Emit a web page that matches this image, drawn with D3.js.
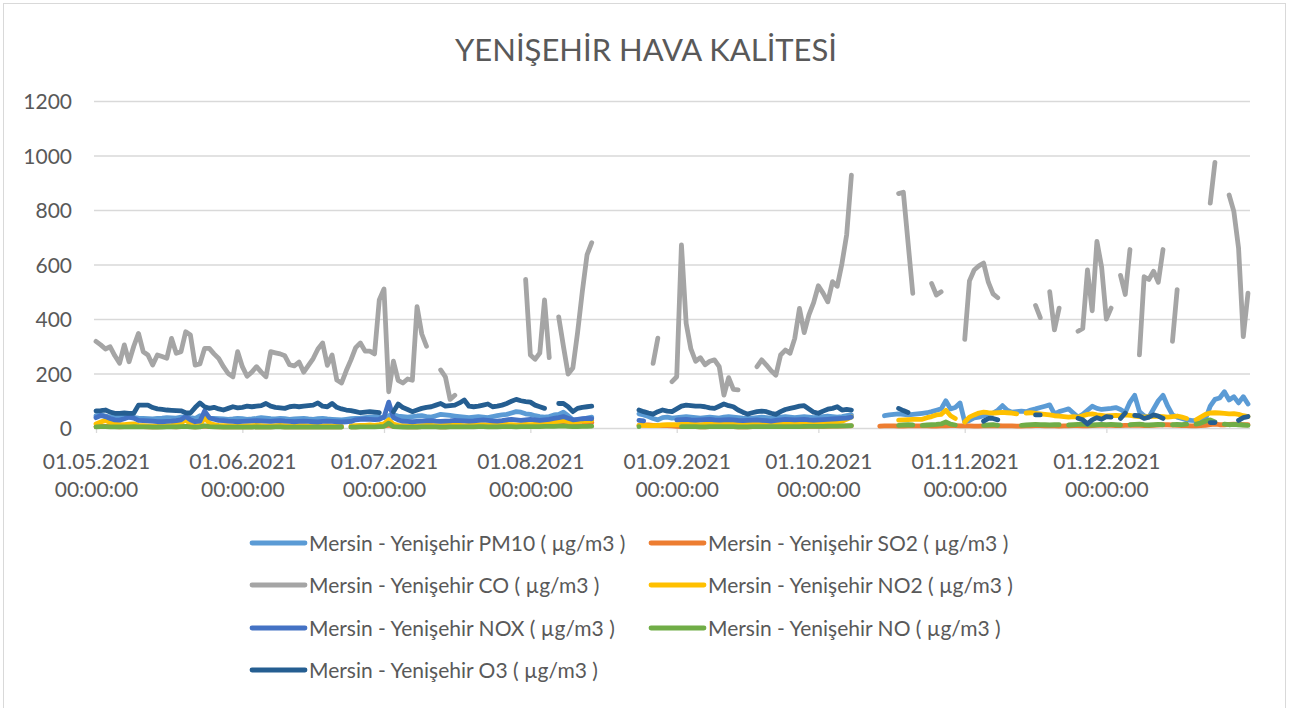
<!DOCTYPE html>
<html>
<head>
<meta charset="utf-8">
<script src="https://cdnjs.cloudflare.com/ajax/libs/d3/7.8.5/d3.min.js"></script>
<style>
  body { margin: 0; background: #fff; }
  text { font-family: Lato, "Open Sans", sans-serif; fill: #595959; }
</style>
</head>
<body>
<svg id="chart" width="1294" height="708"></svg>
<script>
var _ = null;

// one value per day, 01.05.2021 .. 31.12.2021 (245 days), null = no measurement
var startDay = new Date(2021, 4, 1);
var dayCount = 245;

var tickLabels = ["01.05.2021", "01.06.2021", "01.07.2021", "01.08.2021",
                  "01.09.2021", "01.10.2021", "01.11.2021", "01.12.2021"];
var yTicks = [0, 200, 400, 600, 800, 1000, 1200];

var seriesNames = [
  "Mersin - Yenişehir PM10 ( µg/m3 )",
  "Mersin - Yenişehir SO2 ( µg/m3 )",
  "Mersin - Yenişehir CO ( µg/m3 )",
  "Mersin - Yenişehir NO2 ( µg/m3 )",
  "Mersin - Yenişehir NOX ( µg/m3 )",
  "Mersin - Yenişehir NO ( µg/m3 )",
  "Mersin - Yenişehir O3 ( µg/m3 )"
];

var pm10 = [
  45,48,44,40,42,45,43,40,38,36,35,34,33,35,36,38,37,36,40,42,38,35,45,40,36,35,34,33,32,33,35, // may
  34,32,33,35,38,36,34,33,35,34,32,33,34,35,33,32,34,35,33,32,31,30,32,34,35,36,38,40,42,40,    // jun
  38,45,48,44,42,40,42,44,45,42,40,45,50,48,46,44,42,40,38,40,42,40,38,42,45,48,50,55,60,58,52, // jul
  50,45,42,40,42,48,50,58,45,30,28,32,36,40,_,_,_,_,_,_,_,_,_,52,48,42,35,30,38,40,36,          // aug
  38,40,42,40,38,36,38,40,38,36,40,42,40,38,36,35,36,38,40,38,36,38,40,42,40,38,40,42,40,38,    // sep
  40,42,44,42,40,42,45,48,_,_,_,_,_,_,45,48,50,52,50,48,50,52,54,56,60,65,70,100,70,75,92,      // oct
  22,28,37,40,45,52,55,65,82,65,58,60,62,60,66,70,75,80,85,52,60,65,70,55,40,50,65,80,72,68,    // nov
  70,72,75,68,57,95,120,60,45,40,70,100,120,80,48,40,35,30,28,27,30,33,80,105,110,133,103,115,92,115,88 // dec
];

var so2 = [
  5,6,6,5,5,4,5,5,6,5,5,4,4,4,5,5,5,4,5,6,5,4,5,7,5,5,4,4,4,4,4,
  4,4,4,5,4,4,4,5,5,4,4,4,4,4,4,4,4,4,4,4,4,4,_,4,4,5,5,5,5,6,
  8,10,6,5,5,4,4,4,5,5,5,5,4,4,5,5,5,5,5,6,6,6,5,5,6,6,7,7,6,6,7,
  7,7,8,8,28,10,9,10,9,8,9,10,12,20,_,_,_,_,_,_,_,_,_,10,11,11,10,10,9,9,8,
  6,5,5,5,5,4,4,5,5,5,5,5,5,4,4,4,5,5,5,5,5,5,5,5,5,5,5,5,6,6,
  6,6,6,7,7,7,8,8,_,_,_,_,_,7,8,8,8,7,7,8,8,8,8,8,7,7,8,8,9,9,8,
  8,8,7,7,8,8,8,9,8,8,8,7,7,8,8,9,9,8,8,8,7,8,8,9,9,8,8,9,10,10,
  10,10,9,9,10,10,11,10,9,9,10,11,12,12,11,10,9,9,8,8,9,10,12,14,12,12,13,14,13,12,12
];

var co = [
  318,305,290,298,265,238,305,243,300,347,280,268,231,268,262,256,329,274,280,353,341,231,235,292,292,272,255,225,200,188,280,
  225,190,205,225,205,188,280,276,272,265,232,228,242,205,230,255,290,312,230,268,176,165,210,250,295,312,282,282,272,470,
  510,133,245,175,165,180,175,445,345,300,_,_,213,188,105,120,_,_,_,_,_,_,_,_,_,_,_,_,_,_,545,
  268,252,275,470,258,_,408,300,198,220,350,500,635,680,_,_,_,_,_,_,_,_,_,_,_,_,237,330,_,_,170,
  188,672,384,290,245,258,232,245,250,225,121,185,142,140,_,_,_,225,250,231,210,194,268,286,274,329,439,350,415,460,
  522,495,463,537,520,604,710,928,_,_,_,_,_,_,_,_,_,860,865,680,494,_,_,_,530,488,500,_,_,_,_,
  325,540,580,595,605,535,492,478,_,_,_,_,_,_,_,450,405,_,500,360,440,_,_,_,355,365,580,430,685,590,
  400,440,_,560,490,655,_,268,555,545,575,535,655,_,318,508,_,_,_,_,_,_,825,975,_,_,855,795,660,335,495
];

var no2 = [
  15,22,28,20,14,12,12,14,15,10,9,8,8,8,8,9,10,12,18,30,15,8,10,38,18,12,10,9,9,8,8,
  8,9,9,10,9,8,8,9,10,9,8,8,9,9,8,8,7,8,9,8,8,7,_,8,9,10,10,11,10,12,
  15,30,14,10,9,8,8,8,9,10,10,9,9,10,10,11,10,9,10,11,12,12,11,10,11,12,13,12,11,12,13,
  12,13,14,15,16,20,25,28,24,22,24,25,26,28,_,_,_,_,_,_,_,_,_,10,10,9,9,10,11,12,12,
  12,13,14,14,13,12,13,14,15,14,13,14,15,14,13,14,15,16,15,14,15,16,17,18,17,16,17,18,17,16,
  18,20,19,20,22,25,32,40,_,_,_,_,_,_,_,_,_,29,30,31,32,32,32,38,42,48,50,65,45,35,_,
  22,40,48,55,58,56,55,56,57,56,55,52,_,55,56,54,52,50,48,45,44,42,40,42,40,45,50,52,48,46,
  44,45,46,45,48,46,44,42,40,42,44,43,42,40,42,44,40,35,_,30,40,50,55,56,55,54,52,53,50,45,42
];

var nox = [
  38,46,42,35,30,29,34,40,36,28,27,26,25,23,23,24,25,27,30,42,30,23,25,62,38,32,28,27,25,24,23,
  24,25,26,27,26,25,24,26,27,25,24,23,24,25,24,23,22,24,25,24,23,22,23,24,30,32,33,32,31,32,
  40,95,38,30,25,24,23,24,25,26,27,25,24,25,26,28,27,26,25,26,28,30,28,26,25,27,30,32,30,28,30,
  32,30,28,30,32,35,38,42,36,30,32,34,35,34,_,_,_,_,_,_,_,_,_,28,26,_,_,_,_,_,_,
  30,31,32,30,29,30,31,32,30,29,30,31,30,28,27,28,29,30,28,27,25,28,30,32,31,30,31,32,30,29,
  30,31,32,33,34,35,36,40,_,_,_,_,_,_,_,_,_,_,_,_,_,_,_,_,_,_,_,_,_,_,_,
  _,_,_,_,_,_,_,_,_,_,_,_,_,_,_,_,_,_,_,_,_,_,_,_,_,_,_,_,_,_,
  _,_,_,_,_,_,_,_,_,_,_,_,_,_,_,_,_,_,_,_,_,_,_,_,_,_,_,_,_,_,_
];

var no = [
  4,5,5,4,4,4,4,4,5,4,4,4,3,3,3,4,4,4,5,6,4,3,4,8,5,4,4,3,3,3,3,
  3,3,3,4,3,3,3,4,4,3,3,3,3,3,3,3,3,3,3,3,3,3,_,3,3,4,4,4,4,5,
  6,18,5,4,3,3,3,3,4,4,4,4,3,3,4,4,4,4,4,4,5,5,4,4,4,5,5,5,4,5,5,
  5,5,5,6,6,6,7,8,6,5,5,6,6,7,_,_,_,_,_,_,_,_,_,5,_,_,_,_,_,_,_,
  _,5,5,5,5,4,4,5,5,5,5,5,5,4,4,4,5,5,5,5,5,5,5,5,5,5,5,6,6,6,
  6,6,7,7,7,8,8,9,_,_,_,_,_,_,_,_,_,10,11,12,11,_,10,11,12,13,15,22,14,11,_,
  _,_,_,_,10,11,12,10,_,_,_,_,10,11,12,13,12,12,11,12,12,_,11,12,13,14,12,11,12,13,
  12,13,12,11,_,12,13,14,12,11,12,13,12,_,12,13,12,14,_,14,18,25,30,22,_,14,12,13,12,11,10
];

var o3 = [
  63,64,66,58,54,54,55,54,54,84,84,84,75,70,68,66,65,64,63,56,55,75,92,78,72,76,70,66,72,78,74,
  76,80,78,80,82,90,80,76,74,72,78,80,78,80,82,84,92,80,78,90,76,70,66,64,60,56,58,60,58,56,
  _,_,60,88,75,68,60,66,72,76,78,84,90,80,82,84,92,103,80,78,80,84,88,78,80,84,90,98,105,100,97,
  95,84,78,72,_,_,90,90,78,60,72,76,78,80,_,_,_,_,_,_,_,_,_,66,60,55,51,60,66,62,60,
  70,80,84,82,80,80,78,74,72,80,88,82,78,66,58,51,56,60,62,60,54,50,60,68,72,76,80,82,70,58,
  54,62,69,72,78,66,68,66,_,_,_,_,_,_,_,_,_,72,64,57,_,_,_,_,_,_,_,_,_,_,_,
  _,_,_,_,25,35,35,30,_,_,_,_,_,_,_,48,48,_,_,_,_,_,_,_,36,30,15,30,38,32,
  42,40,_,35,55,_,46,45,35,40,48,44,35,_,_,_,_,_,_,_,_,_,20,20,_,_,_,_,28,38,42
];

var seriesValues = [pm10, so2, co, no2, nox, no, o3];
var seriesColors = ["#5B9BD5", "#ED7D31", "#A5A5A5", "#FFC000", "#4472C4", "#70AD47", "#255E91"];

var svg = d3.select("#chart");

// chart border
svg.append("rect")
  .attr("x", 3.5).attr("y", 3.5)
  .attr("width", 1282).attr("height", 720)
  .attr("fill", "#fff").attr("stroke", "#D9D9D9");

svg.append("text")
  .attr("x", 646).attr("y", 61)
  .attr("text-anchor", "middle")
  .style("font-size", "31px")
  .text("YENİŞEHİR HAVA KALİTESİ");

var plotLeft = 94, plotRight = 1250;
var parseTick = d3.timeParse("%d.%m.%Y");
var days = d3.range(dayCount).map(function(i) { return d3.timeDay.offset(startDay, i); });

var x = d3.scaleTime()
  .domain([days[0], days[dayCount - 1]])
  .range([96, 1248]);
var y = d3.scaleLinear().domain([0, 1200]).range([428, 101]);

// gridlines + y labels
var yAxis = svg.append("g")
  .attr("transform", "translate(" + plotLeft + ",0)")
  .call(d3.axisLeft(y)
    .tickValues(yTicks)
    .tickFormat(d3.format("d"))
    .tickSize(-(plotRight - plotLeft))
    .tickPadding(22));
yAxis.select(".domain").remove();
yAxis.selectAll(".tick line").attr("stroke", "#D9D9D9").attr("stroke-width", 1.3);
yAxis.selectAll(".tick text").style("font-size", "21px").attr("dy", "0.36em");

// x axis with month ticks
var xAxis = svg.append("g")
  .attr("transform", "translate(0,428)")
  .call(d3.axisBottom(x)
    .tickValues(tickLabels.map(parseTick))
    .tickSize(5)
    .tickFormat(d3.timeFormat("%d.%m.%Y")));
xAxis.select(".domain").remove();
xAxis.selectAll(".tick line").attr("stroke", "#D9D9D9").attr("stroke-width", 1.3);
xAxis.selectAll(".tick text").each(function() {
  var t = d3.select(this);
  var label = t.text();
  t.text(null).attr("y", 0).attr("dy", null).style("font-size", "21px");
  t.append("tspan").attr("x", 0).attr("y", 41).text(label);
  t.append("tspan").attr("x", 0).attr("y", 69).text("00:00:00");
});

// series lines
var line = d3.line()
  .defined(function(d) { return d != null; })
  .x(function(d, i) { return x(days[i]); })
  .y(function(d) { return y(d); });

seriesValues.forEach(function(vals, s) {
  svg.append("path")
    .datum(vals)
    .attr("fill", "none")
    .attr("stroke", seriesColors[s])
    .attr("stroke-width", 4.8)
    .attr("stroke-linejoin", "round")
    .attr("stroke-linecap", "round")
    .attr("d", line);
});

// legend, two columns
var legendRows = [543, 585, 628, 670];
var legend = svg.append("g");
seriesNames.forEach(function(name, i) {
  var col = i % 2, row = Math.floor(i / 2);
  var lx = col === 0 ? 252 : 651;
  var ly = legendRows[row];
  legend.append("line")
    .attr("x1", lx).attr("x2", lx + 53)
    .attr("y1", ly).attr("y2", ly)
    .attr("stroke", seriesColors[i])
    .attr("stroke-width", 4.8)
    .attr("stroke-linecap", "round");
  legend.append("text")
    .attr("x", lx + 57).attr("y", ly + 7.5)
    .style("font-size", "21px")
    .text(name);
});
</script>
</body>
</html>
